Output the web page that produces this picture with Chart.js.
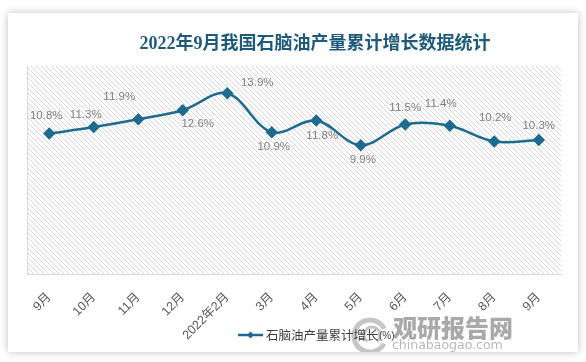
<!DOCTYPE html>
<html>
<head>
<meta charset="utf-8">
<script src="https://cdn.jsdelivr.net/npm/chart.js@4/dist/chart.umd.min.js"></script>
<style>
  html, body { margin: 0; padding: 0; background: #fff; }
  body { width: 586px; height: 362px; position: relative; overflow: hidden; }
  #card {
    position: absolute; left: 8px; top: 13px; width: 570px; height: 339px;
    background: #fff; box-shadow: 0 0 8px rgba(0,0,0,0.25);
  }
  #chart { display: block; }
</style>
</head>
<body>
<div id="card"><canvas id="chart" width="570" height="339"></canvas></div>
<script>
  // Chart data
  const months = ['9月', '10月', '11月', '12月', '2022年2月', '3月', '4月', '5月', '6月', '7月', '8月', '9月'];
  const growth = [10.8, 11.3, 11.9, 12.6, 13.9, 10.9, 11.8, 9.9, 11.5, 11.4, 10.2, 10.3];
  const seriesName = '石脑油产量累计增长(%)';
  const chartTitle = '2022年9月我国石脑油产量累计增长数据统计';

  // label offsets relative to each point (dx, dy)
  const labelOffsets = [
    [-3, -18], [-8, -12], [-19, -22], [15, 14], [30, -10], [2, 15],
    [6, 15], [2, 15], [0, -17], [-9, -22], [1, -24], [0, -14]
  ];

  const lineColor = '#1f6a8f';

  // diagonal hatch for the plot area
  function makeHatch() {
    const c = document.createElement('canvas');
    c.width = 5; c.height = 5;
    const g = c.getContext('2d');
    g.fillStyle = '#fff';
    g.fillRect(0, 0, 5, 5);
    g.fillStyle = '#d6d6d6';
    for (let i = 0; i < 5; i++) g.fillRect(i, i, 1, 1);
    return c;
  }

  const hatch = makeHatch();

  const backdrop = {
    id: 'backdrop',
    beforeDatasetsDraw(chart) {
      const { ctx, chartArea: a } = chart;
      ctx.save();
      ctx.fillStyle = ctx.createPattern(hatch, 'repeat');
      ctx.fillRect(a.left, a.top, a.right - a.left, a.bottom - a.top);
      ctx.strokeStyle = '#d9d9d9';
      ctx.lineWidth = 1;
      ctx.beginPath();
      ctx.moveTo(a.left + 0.5, a.top);
      ctx.lineTo(a.left + 0.5, a.bottom);
      ctx.stroke();
      ctx.restore();
    }
  };

  const extras = {
    id: 'extras',
    afterDraw(chart) {
      const { ctx } = chart;
      ctx.save();
      // title
      ctx.fillStyle = '#1f5a7a';
      ctx.font = 'bold 18px "Liberation Serif", "Noto Sans CJK SC", serif';
      ctx.textAlign = 'center';
      ctx.textBaseline = 'middle';
      ctx.fillText(chartTitle, 307, 31);

      // data labels
      const meta = chart.getDatasetMeta(0);
      ctx.fillStyle = '#7f7f7f';
      ctx.font = '11.5px "Liberation Sans", "Noto Sans CJK SC", sans-serif';
      meta.data.forEach((pt, i) => {
        const [dx, dy] = labelOffsets[i];
        ctx.fillText(growth[i].toFixed(1) + '%', pt.x + dx, pt.y + dy);
      });

      // watermark
      ctx.globalAlpha = 0.6;
      ctx.strokeStyle = '#a0a0a0';
      ctx.lineWidth = 5;
      ctx.beginPath(); ctx.arc(362, 323, 16, 0.5, Math.PI * 1.85); ctx.stroke();
      ctx.lineWidth = 3;
      ctx.beginPath(); ctx.arc(364, 322, 8, 2.2, Math.PI * 2.3); ctx.stroke();
      ctx.fillStyle = '#707070';
      ctx.textAlign = 'left';
      ctx.font = '900 24px "Noto Sans CJK SC", sans-serif';
      ctx.fillText('观研报告网', 385, 315);
      ctx.fillStyle = '#888';
      ctx.font = '12.5px "DejaVu Sans", sans-serif';
      ctx.fillText('chinabaogao.com', 384, 333);
      ctx.globalAlpha = 1;

      // legend
      const ly = 322;
      ctx.strokeStyle = lineColor;
      ctx.lineWidth = 2.5;
      ctx.beginPath(); ctx.moveTo(230, ly); ctx.lineTo(255, ly); ctx.stroke();
      ctx.fillStyle = lineColor;
      ctx.beginPath();
      ctx.moveTo(242.5, ly - 3.5); ctx.lineTo(246, ly); ctx.lineTo(242.5, ly + 3.5); ctx.lineTo(239, ly);
      ctx.closePath(); ctx.fill();
      ctx.fillStyle = '#404040';
      ctx.font = '12.5px "Noto Sans CJK SC", sans-serif';
      ctx.fillText('石脑油产量累计增长', 258, ly);
      ctx.font = '10px "Liberation Sans", sans-serif';
      ctx.fillText('(%)', 258 + ctx.measureText('').width + 113, ly + 1);
      ctx.restore();
    }
  };

  new Chart(document.getElementById('chart').getContext('2d'), {
    type: 'line',
    data: {
      labels: months,
      datasets: [{
        label: seriesName,
        data: growth,
        borderColor: lineColor,
        backgroundColor: lineColor,
        borderWidth: 2.5,
        tension: 0.35,
        pointStyle: 'rectRot',
        pointRadius: 4.5,
        pointHoverRadius: 4.5,
        pointBackgroundColor: lineColor,
        pointBorderColor: lineColor
      }]
    },
    options: {
      responsive: false,
      animation: false,
      layout: { padding: { left: 19, right: 17, top: 53, bottom: 8 } },
      plugins: {
        title: { display: false },
        tooltip: { enabled: false },
        legend: { display: false }
      },
      scales: {
        x: {
          offset: true,
          grid: { display: false },
          border: { display: true, color: '#d9d9d9' },
          ticks: {
            color: '#595959',
            font: { size: 12.5, family: '"Liberation Sans", "Noto Sans CJK SC", sans-serif' },
            minRotation: 45,
            maxRotation: 45,
            autoSkip: false,
            padding: 8
          },
          afterFit(scale) { scale.height = 70; }
        },
        y: {
          display: false,
          min: 0,
          max: 16
        }
      }
    },
    plugins: [backdrop, extras]
  });
</script>
</body>
</html>
